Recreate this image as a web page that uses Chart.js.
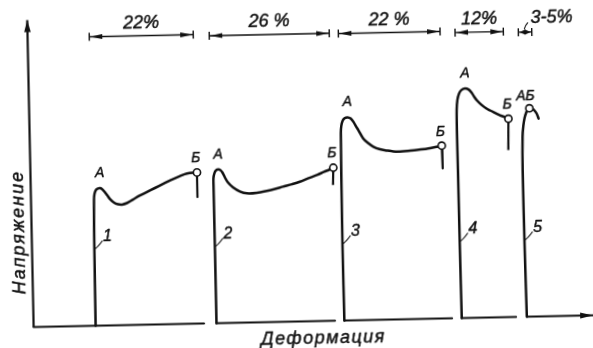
<!DOCTYPE html>
<html>
<head>
<meta charset="utf-8">
<script src="https://cdn.jsdelivr.net/npm/chart.js@4.4.1/dist/chart.umd.min.js"></script>
<style>
  html, body { margin: 0; padding: 0; background: #fff; overflow: hidden; }
  #wrap { width: 593px; height: 348px; }
  /* the printed plate sits slightly askew on the page */
  canvas { display: block; transform: rotate(-1.2deg); transform-origin: 50% 50%; }
</style>
</head>
<body>
<div id="wrap"><canvas id="c" width="593" height="348"></canvas></div>
<script>
// Schematic stress–strain diagrams of five specimens, arbitrary units:
// [deformation, stress]
const specimen1 = [[62.0,0],[62.4,85.7],[63.0,125.7],[63.6,131.7],[65.2,135.7],[67.2,137.1],[69.2,137.4],[71.2,136.6],[73.1,134.5],[76.1,130.5],[79.0,126.4],[82.9,122.8],[86.9,121.0],[90.9,120.6],[95.9,122.0],[102.0,125.4],[109.1,129.3],[116.1,132.6],[124.2,136.5],[132.3,140.3],[140.4,144.1],[149.5,147.9],[156.5,150.3],[166.5,151.1]];
const specimen2 = [[182.9,0],[182.9,73.2],[182.8,138.2],[182.9,145.2],[184.0,150.2],[185.6,152.9],[187.9,153.8],[190.1,152.9],[192.0,150.5],[194.4,145.5],[197.3,140.4],[202.2,135.5],[209.1,131.2],[216.1,129.2],[226.1,129.6],[236.2,131.3],[244.2,133.0],[252.2,135.1],[261.3,137.4],[269.3,139.7],[277.4,142.8],[286.5,146.1],[293.6,149.1],[298.6,151.0],[302.9,153.0]];
const specimen3 = [[310.8,0],[310.5,70.5],[310.7,130.6],[311.2,187.6],[311.8,194.6],[313.1,199.5],[315.2,202.2],[318.2,203.1],[321.2,201.9],[323.9,198.6],[326.5,193.8],[328.7,190.2],[333.5,181.6],[338.2,177.0],[343.4,173.2],[350.0,170.5],[356.7,169.1],[363.3,168.0],[370.0,167.8],[378.0,168.2],[386.7,169.0],[395.0,169.8],[400.0,170.4],[406.8,171.7],[411.8,172.8]];
const specimen4 = [[428.2,0],[427.8,68.1],[427.5,148.1],[427.3,185.2],[427.5,208.2],[428.4,218.1],[430.2,224.6],[432.8,228.1],[436.3,229.5],[439.8,228.4],[442.7,225.3],[445.1,221.3],[448.0,217.2],[452.0,213.1],[456.9,209.2],[460.8,207.0],[465.8,204.4],[470.7,201.9],[475.2,200.2],[479.0,198.3]];
const specimen5 = [[493.3,0],[492.6,66.7],[492.2,146.8],[492.8,180.1],[493.8,190.8],[495.2,198.7],[496.8,203.7],[498.3,206.7],[500.2,208.3],[502.4,208.6],[504.8,206.5],[507.3,203.0],[509.2,197.9]];

// fracture points (Б) and the broken-off stub below them
const fracturePoints = [[166.5,151.1],[302.9,153.0],[411.8,172.8],[479.0,198.3],[500.2,208.3]];
const fractureStubs = [
  [[166.5,151.1],[166.5,126.6]],
  [[302.9,153.0],[302.3,135.7]],
  [[411.8,172.8],[412.3,150.1]],
  [[479.0,198.3],[478.3,167.1]]
];
// upper yield points (А)
const yieldPoints = [[69.2,137.4],[187.9,153.8],[318.2,203.1],[436.3,229.5]];

// deformation axis, drawn as separate pieces under each diagram
const baseSegments = [[0,170.4],[182.9,301.4],[310.8,418.5],[428.2,482.5],[493.3,559.6]];
const stressAxisTop = 307;

// elongation at fracture
const elongationFrom = [61.7,181.7,310.8,427.5,490.8];
const elongationTo   = [165.7,301.7,412.5,475.8,504.2];
const elongationText = ['22%','26 %','22 %','12%','3-5%'];
const specimenNames  = ['1','2','3','4','5'];
const fractureNames  = ['Б','Б','Б','Б','АБ'];
const yieldName = 'А';
const stressTitle = 'Напряжение';
const strainTitle = 'Деформация';

const INK = '#111';
const FONT = '"Liberation Sans", "DejaVu Sans", sans-serif';
const bracketLevels = [289, 287.5, 287, 285.6, 284.6];

const pts = a => a.map(([x, y]) => ({ x, y }));
const line = (data, width, extra) => Object.assign({
  data: pts(data), showLine: true, borderColor: INK, borderWidth: width,
  pointRadius: 0, pointHoverRadius: 0, tension: 0, fill: false, clip: false,
  borderCapStyle: 'round', borderJoinStyle: 'round'
}, extra || {});

const datasets = [];
datasets.push({
  data: pts(fracturePoints), showLine: false, pointRadius: 3.6, pointHoverRadius: 3.6,
  pointBackgroundColor: '#fff', pointBorderColor: INK, pointBorderWidth: 1.6, clip: false
});
[specimen1, specimen2, specimen3, specimen4, specimen5].forEach(s =>
  datasets.push(line(s, 2.5, { tension: 0.3 })));
fractureStubs.forEach(s => datasets.push(line(s, 2.2, { borderCapStyle: 'butt' })));
baseSegments.forEach(([a, b], i) => datasets.push(line([[a, 0], [b, 0]], 2.2,
  i === baseSegments.length - 1 ? { arrow: { len: 13, half: 3 }, borderCapStyle: 'butt' } : {})));
datasets.push(line([[0, 0], [0, stressAxisTop]], 2.2, { arrow: { len: 12, half: 3.3 }, borderCapStyle: 'butt' }));

function arrowHead(ctx, x0, y0, x1, y1, len, half) {
  const ang = Math.atan2(y1 - y0, x1 - x0);
  ctx.save();
  ctx.translate(x1, y1);
  ctx.rotate(ang);
  ctx.beginPath();
  ctx.moveTo(0, 0);
  ctx.lineTo(-len, -half);
  ctx.lineTo(-len, half);
  ctx.closePath();
  ctx.fill();
  ctx.restore();
}

// filled text with a hairline outline, to match the heavier printed lettering
function ink(ctx, t, x, y) {
  ctx.fillText(t, x, y);
  ctx.lineWidth = 0.45;
  ctx.strokeText(t, x, y);
}

const sketch = {
  id: 'sketch',
  afterDatasetsDraw(chart) {
    const ctx = chart.ctx, sx = chart.scales.x, sy = chart.scales.y;
    const X = v => sx.getPixelForValue(v), Y = v => sy.getPixelForValue(v);
    ctx.save();
    ctx.fillStyle = INK;
    ctx.strokeStyle = INK;
    ctx.lineJoin = 'round';

    // axis arrowheads
    chart.data.datasets.forEach((ds, i) => {
      if (!ds.arrow) return;
      const p = chart.getDatasetMeta(i).data;
      const a = p[p.length - 2], b = p[p.length - 1];
      arrowHead(ctx, a.x, a.y, b.x, b.y, ds.arrow.len, ds.arrow.half);
    });

    // elongation dimension lines
    elongationFrom.forEach((f, i) => {
      const x1 = X(f), x2 = X(elongationTo[i]), y = Y(bracketLevels[i]);
      ctx.lineWidth = 1.4;
      ctx.lineCap = 'butt';
      ctx.beginPath();
      ctx.moveTo(x1, y); ctx.lineTo(x2, y);
      ctx.moveTo(x1, y - 4); ctx.lineTo(x1, y + 4);
      ctx.moveTo(x2, y - 4); ctx.lineTo(x2, y + 4);
      ctx.stroke();
      const len = Math.min(12, (x2 - x1) * 0.45);
      arrowHead(ctx, x1 + 20, y, x1 + 1, y, len, 2.6);
      arrowHead(ctx, x2 - 20, y, x2 - 1, y, len, 2.6);

      ctx.font = 'italic 18px ' + FONT;
      ctx.textBaseline = 'alphabetic';
      const txt = elongationText[i];
      const w = ctx.measureText(txt).width;
      if (w < x2 - x1) {
        ctx.textAlign = 'center';
        ink(ctx, txt, (x1 + x2) / 2, y - 8);
      } else {
        const m = (x1 + x2) / 2;
        ctx.lineWidth = 1.2;
        ctx.beginPath();
        ctx.moveTo(m - 0.7, y - 3);
        ctx.quadraticCurveTo(m + 0.5, y - 7, m + 3, y - 9.5);
        ctx.stroke();
        ctx.textAlign = 'left';
        ink(ctx, txt, x2 - 1, y - 8.5);
      }
    });

    // А / Б point labels
    ctx.font = 'italic 14px ' + FONT;
    ctx.textBaseline = 'middle';
    yieldPoints.forEach(([x, y]) => {
      ctx.textAlign = 'center';
      ink(ctx, yieldName, X(x), Y(y) - 15);
    });
    fracturePoints.forEach(([x, y], i) => {
      const t = fractureNames[i];
      if (t.length > 1) {
        ctx.textAlign = 'right';
        ink(ctx, t, X(x) + 5.5, Y(y) - 12.5);
      } else {
        ctx.textAlign = 'center';
        ink(ctx, t, X(x) - 1, Y(y) - 14);
      }
    });

    // specimen numbers with leaders off the elastic line
    [specimen1, specimen2, specimen3, specimen4, specimen5].forEach((s, i) => {
      const sx0 = X(s[1][0]) + 0.8, sy0 = Y(77);
      ctx.lineWidth = 1.2;
      ctx.beginPath();
      ctx.moveTo(sx0, sy0);
      ctx.quadraticCurveTo(sx0 + 3, sy0 - 2, sx0 + 7.5, sy0 - 8);
      ctx.stroke();
      ctx.font = 'italic 16px ' + FONT;
      ctx.textAlign = 'center';
      ctx.textBaseline = 'middle';
      ink(ctx, specimenNames[i], sx0 + 12.5, sy0 - 12);
    });

    // axis titles
    ctx.font = 'italic 18px ' + FONT;
    ctx.letterSpacing = '1.5px';
    ctx.textAlign = 'center';
    ctx.textBaseline = 'alphabetic';
    ink(ctx, strainTitle, X(289.5), Y(-22.3));
    ctx.save();
    ctx.translate(X(-7.7), Y(95.3));
    ctx.rotate(-Math.PI / 2);
    ctx.letterSpacing = '2px';
    ink(ctx, stressTitle, 0, 0);
    ctx.restore();
    ctx.restore();
  }
};

new Chart(document.getElementById('c'), {
  type: 'scatter',
  data: { datasets },
  options: {
    responsive: false,
    animation: false,
    events: [],
    layout: { padding: 0, autoPadding: false },
    plugins: { legend: { display: false }, tooltip: { enabled: false } },
    scales: {
      x: { type: 'linear', min: -30.5, max: 562.5, display: false },
      y: { type: 'linear', min: -26.5, max: 321.5, display: false }
    }
  },
  plugins: [sketch]
});
</script>
</body>
</html>
